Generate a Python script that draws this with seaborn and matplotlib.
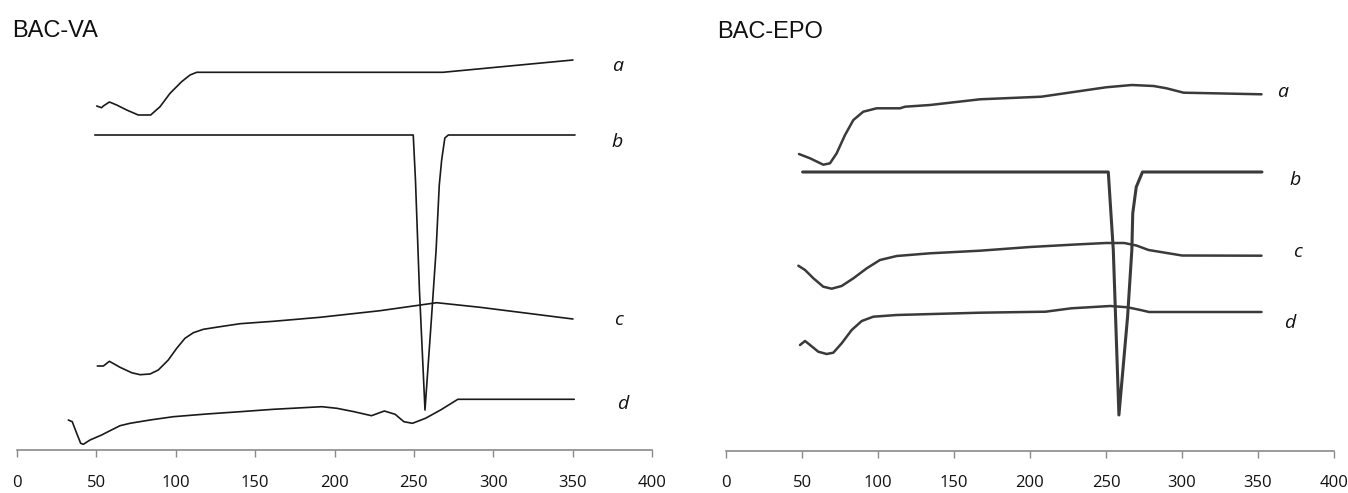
import matplotlib
matplotlib.use("Agg")
import matplotlib.pyplot as plt
import seaborn as sns
import pandas as pd

# ---- BAC-VA (left panel), x = temperature, y = arbitrary heat-flow units
va_a_x = [50.2, 53.3, 54.4, 58.2, 62.8, 69.1, 76.4, 84.2, 90.1, 96.4, 103.7, 109, 113.2, 268.3, 350.2]
va_a_y = [344, 342.3, 344, 348, 345, 340, 335, 335, 343.3, 356.7, 368.3, 375, 377.7, 377.7, 390]

va_b_x = [49, 249.6, 251, 253.5, 257, 261, 264, 266, 267.5, 269.5, 271.7, 351.5]
va_b_y = [315, 315, 270, 160, 40, 130, 200, 265, 290, 312, 315, 315]

va_c_x = [50.6, 54.4, 58.2, 64.9, 72.2, 77.5, 83.8, 89, 95.3, 100.6, 105.8, 111.1, 117.4,
          127.9, 140.5, 161.5, 190.9, 228.7, 264.4, 291.7, 350.2]
va_c_y = [84, 84, 88.7, 82.7, 77.3, 75.3, 76, 80, 90, 101.7, 111.7, 117.3, 120.7,
          123.3, 126.3, 128.7, 132.7, 139.3, 147.3, 142.7, 131]

va_d_x = [32.3, 34.8, 37.6, 40.1, 41.8, 46, 53.3, 58.6, 64.9, 71.2, 83.8, 98.5, 119.5, 140.5,
          161.5, 192, 201.5, 212.3, 223.3, 231.4, 238.2, 243.7, 249.1, 257.3, 266.8, 277.7, 351]
va_d_y = [30, 28.3, 16.7, 6.7, 5.7, 10, 15, 19.3, 24.3, 26.7, 30, 33.3, 36, 38.3,
          40.7, 43.3, 41.7, 38.3, 34.3, 39, 35.7, 28.3, 26.7, 31.7, 40, 50.7, 50.7]

# ---- BAC-EPO (right panel)
epo_a_x = [48, 55.3, 64, 68.4, 72.8, 78.3, 83.8, 90.3, 99.1, 114.5, 117.8, 134.2, 167.1,
           207.4, 250, 267, 281.3, 289.8, 301.1, 321, 352.3]
epo_a_y = [297, 292.7, 286.3, 287.7, 297.7, 316, 331, 339.3, 342.7, 342.7, 344.3, 346, 351.7,
           354.3, 363.7, 366, 365, 362.7, 358.3, 357.7, 356.7]

epo_b_x = [50.4, 251.5, 254.8, 258.5, 264.2, 267, 267.6, 269.9, 274, 352.6]
epo_b_y = [279, 279, 201, 36, 134.3, 201, 237.7, 264, 279, 279]

epo_c_x = [47.6, 52, 57.5, 64, 69.5, 76.1, 83.8, 92.6, 101.3, 112.3, 134.2, 167.1,
           200, 230, 250, 262, 270, 278, 290, 300, 352.3]
epo_c_y = [185.3, 181, 172.7, 164.3, 162.3, 165, 172.7, 182.7, 191, 195, 197.7, 200.3,
           204, 206.5, 208, 208, 205.5, 201, 198, 195.5, 195.3]

epo_d_x = [48.7, 52, 55.3, 60.7, 66.2, 70.6, 76.1, 82.7, 89.3, 96.9, 112.3, 167.1,
           210.2, 227.2, 252.8, 264.2, 272.7, 278.3, 352.3]
epo_d_y = [106, 110, 106, 99.3, 97, 98.3, 107.7, 121, 130, 134.3, 136, 138.3,
           139.3, 142.7, 145, 143.7, 141, 139, 139]

x_ticks = [0, 50, 100, 150, 200, 250, 300, 350, 400]
curve_names = ["a", "b", "c", "d"]

sns.set_theme(style="white")
plt.rcParams["font.family"] = ["Open Sans", "DejaVu Sans"]

fig = plt.figure(figsize=(13.48, 4.93), dpi=100)
ax_va = fig.add_axes([17 / 1348, 43 / 493, 635 / 1348, 410 / 493])
ax_epo = fig.add_axes([726 / 1348, 42 / 493, 608 / 1348, 411 / 493])


def draw_panel(ax, curves, labels_pos, color, lw, b_lw):
    for name, (xs, ys) in zip(curve_names, curves):
        df = pd.DataFrame({"x": xs, "y": ys})
        sns.lineplot(data=df, x="x", y="y", ax=ax, color=color, sort=False,
                     estimator=None, linewidth=b_lw if name == "b" else lw)
    for name, (lx, ly) in zip(curve_names, labels_pos):
        ax.text(lx, ly, name, fontsize=14, style="italic", ha="center", va="center",
                color="#111111")
    ax.set_xlim(0, 400)
    ax.set_xticks(x_ticks)
    ax.set_xlabel("")
    ax.set_ylabel("")
    ax.set_yticks([])
    for side in ["left", "top", "right"]:
        ax.spines[side].set_visible(False)
    ax.spines["bottom"].set_color("#8a8a8a")
    ax.spines["bottom"].set_linewidth(1.2)
    ax.tick_params(axis="x", direction="out", length=5, width=1, color="#8a8a8a",
                   labelsize=12, labelcolor="#111111", pad=13, bottom=True)
    ax.set_facecolor("none")


draw_panel(ax_va,
           [(va_a_x, va_a_y), (va_b_x, va_b_y), (va_c_x, va_c_y), (va_d_x, va_d_y)],
           [(378, 384), (378, 308), (379, 130), (381.7, 46)],
           "#1a1a1a", 1.2, 1.2)
ax_va.set_ylim(0, 410)

draw_panel(ax_epo,
           [(epo_a_x, epo_a_y), (epo_b_x, epo_b_y), (epo_c_x, epo_c_y), (epo_d_x, epo_d_y)],
           [(366.4, 359), (374.3, 271), (375.7, 199), (371, 128)],
           "#3a3a3a", 1.8, 2.2)
ax_epo.set_ylim(0, 411)
ax_epo.tick_params(axis="x", pad=12)

fig.text(12 / 1348, 1 - 31 / 493, "BAC-VA", fontsize=17, family=["Liberation Sans"],
         ha="left", va="center", color="#111111")
fig.text(717 / 1348, 1 - 32 / 493, "BAC-EPO", fontsize=17, family=["Liberation Sans"],
         ha="left", va="center", color="#111111")

fig.savefig("out.png", dpi=100)
